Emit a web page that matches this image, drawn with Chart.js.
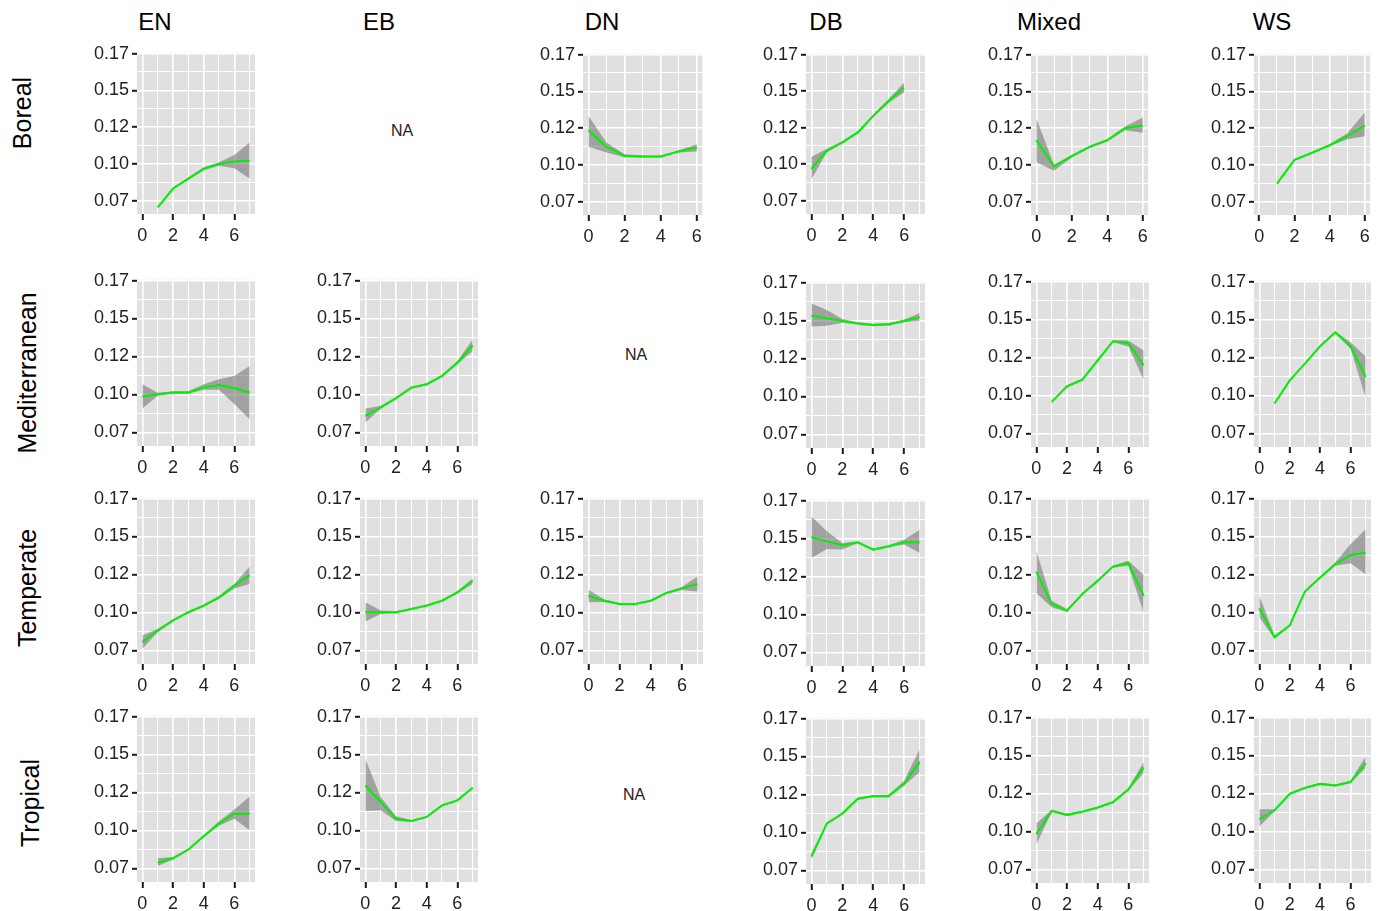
<!DOCTYPE html>
<html lang="en">
<head>
<meta charset="UTF-8">
<title>Trend by biome and forest type</title>
<script src="https://cdn.jsdelivr.net/npm/chart.js"></script>
<style>
    body { margin: 0; background: #ffffff; }
    #page {
        position: relative;
        width: 1380px;
        height: 911px;
        overflow: hidden;
        font-family: "Liberation Sans", Arial, sans-serif;
    }
    canvas { position: absolute; }
    .colTitle, .rowTitle, .na {
        position: absolute;
        white-space: nowrap;
        color: #000;
    }
    .colTitle { font-size: 24px; transform: translate(-50%, -50%); }
    .rowTitle { font-size: 25px; transform: translate(-50%, -50%) rotate(-90deg); }
    .na { font-size: 16px; color: #222; transform: translate(-50%, -50%); }
</style>
</head>
<body>
<div id="page"></div>

<script>
// ---- data ----
const forestTypes = ['EN', 'EB', 'DN', 'DB', 'Mixed', 'WS'];
const biomes = ['Boreal', 'Mediterranean', 'Temperate', 'Tropical'];

const yTickValues = [0.075, 0.100, 0.125, 0.150, 0.175];
const yTickLabels = ['0.07', '0.10', '0.12', '0.15', '0.17'];
const xTickLabels = ['0', '2', '4', '6'];

const x0to7 = [0, 1, 2, 3, 4, 5, 6, 7];
const x1to7 = [1, 2, 3, 4, 5, 6, 7];
const x0to6 = [0, 1, 2, 3, 4, 5, 6];
const x1to6 = [1, 2, 3, 4, 5, 6];

// Boreal
const borealEN   = [0.0705, 0.0833, 0.0900, 0.0967, 0.1000, 0.1016, 0.1023];
const borealENLo = [0.0700, 0.0826, 0.0892, 0.0957, 0.0988, 0.0971, 0.0900];
const borealENHi = [0.0710, 0.0840, 0.0908, 0.0977, 0.1012, 0.1061, 0.1146];
const borealDN   = [0.1235, 0.1123, 0.1063, 0.1057, 0.1057, 0.1092, 0.1119];
const borealDNLo = [0.1123, 0.1085, 0.1053, 0.1050, 0.1050, 0.1084, 0.1092];
const borealDNHi = [0.1332, 0.1153, 0.1073, 0.1064, 0.1064, 0.1100, 0.1141];
const borealDB   = [0.0969, 0.1094, 0.1150, 0.1218, 0.1331, 0.1433, 0.1524];
const borealDBLo = [0.0895, 0.1082, 0.1142, 0.1210, 0.1322, 0.1420, 0.1490];
const borealDBHi = [0.1049, 0.1106, 0.1158, 0.1226, 0.1340, 0.1446, 0.1558];
const borealMixed   = [0.1168, 0.0990, 0.1060, 0.1123, 0.1168, 0.1250, 0.1268];
const borealMixedLo = [0.1019, 0.0961, 0.1050, 0.1115, 0.1160, 0.1235, 0.1219];
const borealMixedHi = [0.1316, 0.1002, 0.1070, 0.1131, 0.1176, 0.1262, 0.1323];
const borealWS   = [0.0873, 0.1034, 0.1083, 0.1134, 0.1195, 0.1268];
const borealWSLo = [0.0868, 0.1028, 0.1077, 0.1127, 0.1175, 0.1195];
const borealWSHi = [0.0878, 0.1040, 0.1089, 0.1141, 0.1215, 0.1357];

// Mediterranean
const medEN   = [0.0986, 0.1001, 0.1012, 0.1012, 0.1045, 0.1062, 0.1040, 0.1012];
const medENLo = [0.0907, 0.0991, 0.1004, 0.1004, 0.1030, 0.1030, 0.0936, 0.0837];
const medENHi = [0.1067, 0.1011, 0.1020, 0.1020, 0.1067, 0.1099, 0.1121, 0.1187];
const medEB   = [0.0859, 0.0914, 0.0975, 0.1045, 0.1067, 0.1121, 0.1209, 0.1324];
const medEBLo = [0.0815, 0.0905, 0.0968, 0.1038, 0.1060, 0.1113, 0.1198, 0.1285];
const medEBHi = [0.0907, 0.0923, 0.0982, 0.1052, 0.1074, 0.1129, 0.1220, 0.1361];
const medDB   = [0.1532, 0.1514, 0.1497, 0.1481, 0.1470, 0.1475, 0.1497, 0.1521];
const medDBLo = [0.1460, 0.1466, 0.1485, 0.1473, 0.1462, 0.1467, 0.1488, 0.1497];
const medDBHi = [0.1612, 0.1569, 0.1510, 0.1489, 0.1478, 0.1483, 0.1506, 0.1547];
const medMixed   = [0.0957, 0.1060, 0.1104, 0.1230, 0.1357, 0.1344, 0.1198];
const medMixedLo = [0.0950, 0.1053, 0.1097, 0.1222, 0.1350, 0.1322, 0.1104];
const medMixedHi = [0.0964, 0.1067, 0.1111, 0.1238, 0.1364, 0.1361, 0.1296];
const medWS   = [0.0947, 0.1099, 0.1209, 0.1324, 0.1416, 0.1324, 0.1121];
const medWSLo = [0.0942, 0.1094, 0.1204, 0.1318, 0.1410, 0.1307, 0.0986];
const medWSHi = [0.0952, 0.1104, 0.1214, 0.1330, 0.1422, 0.1350, 0.1257];

// Temperate
const tempEN   = [0.0805, 0.0881, 0.0947, 0.1001, 0.1045, 0.1099, 0.1176, 0.1246];
const tempENLo = [0.0761, 0.0870, 0.0940, 0.0994, 0.1038, 0.1090, 0.1158, 0.1187];
const tempENHi = [0.0848, 0.0892, 0.0954, 0.1008, 0.1052, 0.1108, 0.1187, 0.1302];
const tempEB   = [0.1001, 0.1001, 0.1001, 0.1023, 0.1045, 0.1077, 0.1132, 0.1209];
const tempEBLo = [0.0940, 0.0990, 0.0995, 0.1017, 0.1039, 0.1071, 0.1124, 0.1187];
const tempEBHi = [0.1067, 0.1012, 0.1007, 0.1029, 0.1051, 0.1083, 0.1140, 0.1224];
const tempDN   = [0.1110, 0.1077, 0.1056, 0.1056, 0.1077, 0.1128, 0.1158, 0.1187];
const tempDNLo = [0.1067, 0.1068, 0.1050, 0.1050, 0.1071, 0.1121, 0.1148, 0.1137];
const tempDNHi = [0.1150, 0.1086, 0.1062, 0.1062, 0.1083, 0.1135, 0.1168, 0.1237];
const tempDB   = [0.1508, 0.1481, 0.1455, 0.1475, 0.1427, 0.1449, 0.1475, 0.1475];
const tempDBLo = [0.1372, 0.1431, 0.1427, 0.1468, 0.1420, 0.1442, 0.1460, 0.1405];
const tempDBHi = [0.1645, 0.1547, 0.1470, 0.1482, 0.1434, 0.1456, 0.1492, 0.1558];
const tempMixed   = [0.1267, 0.1056, 0.1012, 0.1121, 0.1209, 0.1302, 0.1324, 0.1110];
const tempMixedLo = [0.1128, 0.1034, 0.1002, 0.1114, 0.1202, 0.1295, 0.1307, 0.0997];
const tempMixedHi = [0.1405, 0.1077, 0.1022, 0.1128, 0.1216, 0.1309, 0.1340, 0.1246];
const tempWS   = [0.1027, 0.0837, 0.0914, 0.1137, 0.1230, 0.1318, 0.1377, 0.1394];
const tempWSLo = [0.0968, 0.0826, 0.0907, 0.1130, 0.1223, 0.1308, 0.1324, 0.1252];
const tempWSHi = [0.1110, 0.0848, 0.0921, 0.1144, 0.1237, 0.1328, 0.1449, 0.1547];

// Tropical
const tropEN   = [0.0787, 0.0816, 0.0874, 0.0962, 0.1045, 0.1110, 0.1110];
const tropENLo = [0.0765, 0.0808, 0.0867, 0.0955, 0.1030, 0.1077, 0.1001];
const tropENHi = [0.0816, 0.0824, 0.0881, 0.0969, 0.1060, 0.1137, 0.1224];
const tropEB   = [0.1296, 0.1187, 0.1077, 0.1062, 0.1089, 0.1165, 0.1198, 0.1281];
const tropEBLo = [0.1128, 0.1132, 0.1062, 0.1056, 0.1083, 0.1159, 0.1192, 0.1275];
const tropEBHi = [0.1471, 0.1220, 0.1093, 0.1068, 0.1095, 0.1171, 0.1204, 0.1287];
const tropDB   = [0.0841, 0.1059, 0.1124, 0.1222, 0.1239, 0.1239, 0.1320, 0.1465];
const tropDBLo = [0.0820, 0.1052, 0.1117, 0.1215, 0.1232, 0.1230, 0.1309, 0.1396];
const tropDBHi = [0.0862, 0.1066, 0.1131, 0.1229, 0.1246, 0.1248, 0.1341, 0.1548];
const tropMixed   = [0.0983, 0.1135, 0.1109, 0.1130, 0.1157, 0.1193, 0.1276, 0.1422];
const tropMixedLo = [0.0913, 0.1128, 0.1100, 0.1124, 0.1151, 0.1186, 0.1268, 0.1385];
const tropMixedHi = [0.1052, 0.1142, 0.1118, 0.1136, 0.1163, 0.1200, 0.1284, 0.1457];
const tropWS   = [0.1080, 0.1139, 0.1248, 0.1287, 0.1313, 0.1302, 0.1326, 0.1450];
const tropWSLo = [0.1030, 0.1132, 0.1241, 0.1280, 0.1306, 0.1295, 0.1318, 0.1417];
const tropWSHi = [0.1146, 0.1146, 0.1255, 0.1294, 0.1320, 0.1309, 0.1334, 0.1493];

// ---- layout ----
const Y_MIN = 0.066, Y_MAX = 0.1755;
const AXIS_W = 50, AXIS_H = 34, PAD_T = 12, PAD_R = 4;
const FONT = '"Liberation Sans", Arial, sans-serif';

// plot-area left/right edges per column
const colLeft  = [137, 360, 583, 806, 1031, 1254];
const colRight = [255, 478, 703, 925, 1149, 1371];

// row, col, x values, series, x-axis end, pixel y of 0.175 and 0.075
const panels = [
    { r: 0, c: 0, xs: x1to7, m: borealEN, lo: borealENLo, hi: borealENHi, xMax: 7, y1: 52, y0: 201 },
    { r: 0, c: 2, xs: x0to6, m: borealDN, lo: borealDNLo, hi: borealDNHi, xMax: 6, y1: 53, y0: 202 },
    { r: 0, c: 3, xs: x0to6, m: borealDB, lo: borealDBLo, hi: borealDBHi, xMax: 7, y1: 53, y0: 201 },
    { r: 0, c: 4, xs: x0to6, m: borealMixed, lo: borealMixedLo, hi: borealMixedHi, xMax: 6, y1: 53, y0: 202 },
    { r: 0, c: 5, xs: x1to6, m: borealWS, lo: borealWSLo, hi: borealWSHi, xMax: 6, y1: 53, y0: 202 },

    { r: 1, c: 0, xs: x0to7, m: medEN, lo: medENLo, hi: medENHi, xMax: 7, y1: 279, y0: 432 },
    { r: 1, c: 1, xs: x0to7, m: medEB, lo: medEBLo, hi: medEBHi, xMax: 7, y1: 279, y0: 432 },
    { r: 1, c: 3, xs: x0to7, m: medDB, lo: medDBLo, hi: medDBHi, xMax: 7, y1: 281, y0: 434 },
    { r: 1, c: 4, xs: x1to7, m: medMixed, lo: medMixedLo, hi: medMixedHi, xMax: 7, y1: 280, y0: 433 },
    { r: 1, c: 5, xs: x1to7, m: medWS, lo: medWSLo, hi: medWSHi, xMax: 7, y1: 280, y0: 433 },

    { r: 2, c: 0, xs: x0to7, m: tempEN, lo: tempENLo, hi: tempENHi, xMax: 7, y1: 497, y0: 650 },
    { r: 2, c: 1, xs: x0to7, m: tempEB, lo: tempEBLo, hi: tempEBHi, xMax: 7, y1: 497, y0: 650 },
    { r: 2, c: 2, xs: x0to7, m: tempDN, lo: tempDNLo, hi: tempDNHi, xMax: 7, y1: 497, y0: 650 },
    { r: 2, c: 3, xs: x0to7, m: tempDB, lo: tempDBLo, hi: tempDBHi, xMax: 7, y1: 499, y0: 652 },
    { r: 2, c: 4, xs: x0to7, m: tempMixed, lo: tempMixedLo, hi: tempMixedHi, xMax: 7, y1: 497, y0: 650 },
    { r: 2, c: 5, xs: x0to7, m: tempWS, lo: tempWSLo, hi: tempWSHi, xMax: 7, y1: 497, y0: 650 },

    { r: 3, c: 0, xs: x1to7, m: tropEN, lo: tropENLo, hi: tropENHi, xMax: 7, y1: 715, y0: 868 },
    { r: 3, c: 1, xs: x0to7, m: tropEB, lo: tropEBLo, hi: tropEBHi, xMax: 7, y1: 715, y0: 868 },
    { r: 3, c: 3, xs: x0to7, m: tropDB, lo: tropDBLo, hi: tropDBHi, xMax: 7, y1: 717, y0: 870 },
    { r: 3, c: 4, xs: x0to7, m: tropMixed, lo: tropMixedLo, hi: tropMixedHi, xMax: 7, y1: 716, y0: 869 },
    { r: 3, c: 5, xs: x0to7, m: tropWS, lo: tropWSLo, hi: tropWSHi, xMax: 7, y1: 716, y0: 869 },
];

const colTitlePos = [[155, 22], [379, 22], [602, 22], [826, 22], [1049, 22], [1272, 22]];
const rowTitlePos = [[22, 113], [27, 373], [27, 588], [30, 803]];
const naPos = [[402, 131], [636, 355], [634, 795]];

const page = document.getElementById('page');

function addText(cls, text, x, y) {
    const d = document.createElement('div');
    d.className = cls;
    d.textContent = text;
    d.style.left = x + 'px';
    d.style.top = y + 'px';
    page.appendChild(d);
}

forestTypes.forEach((t, i) => addText('colTitle', t, colTitlePos[i][0], colTitlePos[i][1]));
biomes.forEach((b, i) => addText('rowTitle', b, rowTitlePos[i][0], rowTitlePos[i][1]));
naPos.forEach(p => addText('na', 'NA', p[0], p[1]));

// grey panel background
const panelBg = {
    id: 'panelBg',
    beforeDraw(chart) {
        const { ctx, chartArea: a } = chart;
        ctx.save();
        ctx.fillStyle = '#e0e0e0';
        ctx.fillRect(a.left, a.top, a.right - a.left, a.bottom - a.top);
        ctx.restore();
    }
};

const pts = (xs, ys) => xs.map((x, i) => ({ x: x, y: ys[i] }));
const isMajorY = v => yTickValues.some(t => Math.abs(t - v) < 1e-6);

function makePanel(p) {
    const s = (p.y0 - p.y1) / 4; // px per 0.025
    const plotTop = p.y1 - (Y_MAX - 0.175) / 0.025 * s;
    const plotBottom = p.y0 + (0.075 - Y_MIN) / 0.025 * s;
    const left = colLeft[p.c], right = colRight[p.c];

    const canvas = document.createElement('canvas');
    canvas.width = Math.round(AXIS_W + (right - left) + PAD_R);
    canvas.height = Math.round(PAD_T + (plotBottom - plotTop) + AXIS_H);
    canvas.style.left = Math.round(left - AXIS_W) + 'px';
    canvas.style.top = Math.round(plotTop - PAD_T) + 'px';
    page.appendChild(canvas);

    const xPad = 0.05 * p.xMax;
    const xGrid = [];
    for (let v = 0; v <= p.xMax; v++) xGrid.push(v);
    const yGrid = [];
    for (let v = 0.075; v <= 0.1751; v += 0.0125) yGrid.push(+v.toFixed(4));

    new Chart(canvas, {
        type: 'line',
        data: {
            datasets: [
                {
                    data: pts(p.xs, p.m),
                    borderColor: '#00f000',
                    borderWidth: 2,
                    pointRadius: 0,
                    tension: 0,
                    fill: false,
                    order: 0
                },
                {
                    data: pts(p.xs, p.lo),
                    borderColor: 'rgba(0,0,0,0)',
                    borderWidth: 0,
                    pointRadius: 0,
                    tension: 0,
                    fill: false,
                    order: 1
                },
                {
                    data: pts(p.xs, p.hi),
                    borderColor: 'rgba(0,0,0,0)',
                    borderWidth: 0,
                    pointRadius: 0,
                    tension: 0,
                    fill: '-1',
                    backgroundColor: 'rgba(110,110,110,0.55)',
                    order: 1
                }
            ]
        },
        options: {
            responsive: false,
            animation: false,
            devicePixelRatio: 1,
            layout: { padding: { top: PAD_T, right: PAD_R, left: 0, bottom: 0 } },
            plugins: { legend: { display: false }, tooltip: { enabled: false } },
            scales: {
                x: {
                    type: 'linear',
                    min: -xPad,
                    max: p.xMax + xPad,
                    afterBuildTicks: ax => { ax.ticks = xGrid.map(v => ({ value: v })); },
                    afterFit: ax => { ax.height = AXIS_H; },
                    border: { display: false },
                    grid: {
                        color: '#ffffff',
                        lineWidth: ctx => (ctx.tick && ctx.tick.value % 2 === 0) ? 1.6 : 1,
                        tickColor: ctx => (ctx.tick && ctx.tick.value % 2 === 0) ? '#1a1a1a' : 'rgba(0,0,0,0)',
                        tickWidth: 2,
                        tickLength: 6
                    },
                    ticks: {
                        autoSkip: false,
                        maxRotation: 0,
                        padding: 5,
                        color: '#222',
                        font: { family: FONT, size: 18 },
                        callback: v => (v % 2 === 0 ? xTickLabels[v / 2] : '')
                    }
                },
                y: {
                    min: Y_MIN,
                    max: Y_MAX,
                    afterBuildTicks: ax => { ax.ticks = yGrid.map(v => ({ value: v })); },
                    afterFit: ax => { ax.width = AXIS_W; },
                    border: { display: false },
                    grid: {
                        color: '#ffffff',
                        lineWidth: ctx => (ctx.tick && isMajorY(ctx.tick.value)) ? 1.6 : 1,
                        tickColor: ctx => (ctx.tick && isMajorY(ctx.tick.value)) ? '#1a1a1a' : 'rgba(0,0,0,0)',
                        tickWidth: 2,
                        tickLength: 5
                    },
                    ticks: {
                        autoSkip: false,
                        padding: 3,
                        color: '#222',
                        font: { family: FONT, size: 18 },
                        callback: v => {
                            const i = yTickValues.findIndex(t => Math.abs(t - v) < 1e-6);
                            return i >= 0 ? yTickLabels[i] : '';
                        }
                    }
                }
            }
        },
        plugins: [panelBg]
    });
}

panels.forEach(makePanel);
</script>
</body>
</html>
